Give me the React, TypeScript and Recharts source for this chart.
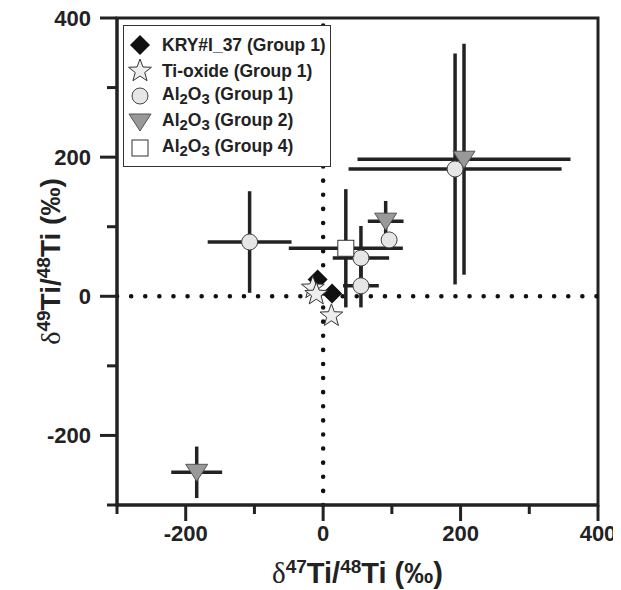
import React from 'react';
import {
  ScatterChart,
  Scatter,
  XAxis,
  YAxis,
  ErrorBar,
  ReferenceLine,
  ReferenceArea,
  Legend,
} from 'recharts';

interface Point {
  x: number;
  y: number;
  ex?: number;
  ey?: number;
}

const axisTicks = [-300, -200, -100, 0, 100, 200, 300, 400];

const kryGroup1: Point[] = [
  { x: -8, y: 24 },
  { x: 13, y: 4 },
];

const tiOxideGroup1: Point[] = [
  { x: -15, y: 12 },
  { x: -10, y: 3 },
  { x: 12, y: -28 },
];

const al2o3Group1: Point[] = [
  { x: -107, y: 78, ex: 61, ey: 73 },
  { x: 55, y: 55, ex: 41, ey: 46 },
  { x: 55, y: 15, ex: 26, ey: 31 },
  { x: 96, y: 81, ex: 8, ey: 8 },
  { x: 192, y: 183, ex: 155, ey: 166 },
];

const al2o3Group2: Point[] = [
  { x: 205, y: 197, ex: 155, ey: 166 },
  { x: 91, y: 108, ex: 26, ey: 29 },
  { x: -184, y: -253, ex: 37, ey: 37 },
];

const al2o3Group4: Point[] = [{ x: 33, y: 69, ex: 83, ey: 85 }];

const withErrors = [...al2o3Group1, ...al2o3Group2, ...al2o3Group4];

const INK = '#222';
const FONT = '"Liberation Sans", Arial, sans-serif';

const Diamond = ({ cx, cy }: any) => (
  <path d={`M${cx},${cy - 10} L${cx + 10},${cy} L${cx},${cy + 10} L${cx - 10},${cy} Z`} fill="#111" />
);

const starPath = (cx: number, cy: number, ro: number, ri: number) => {
  let d = '';
  for (let i = 0; i < 10; i++) {
    const r = i % 2 === 0 ? ro : ri;
    const a = -Math.PI / 2 + (i * Math.PI) / 5;
    d += `${i === 0 ? 'M' : 'L'}${cx + r * Math.cos(a)},${cy + r * Math.sin(a)} `;
  }
  return d + 'Z';
};

const Star = ({ cx, cy }: any) => (
  <path d={starPath(cx, cy, 12, 5)} fill="#eee" stroke="#333" strokeWidth={1} />
);

const Circle = ({ cx, cy }: any) => (
  <circle cx={cx} cy={cy} r={8} fill="#e6e6e6" stroke="#444" strokeWidth={1} />
);

const Triangle = ({ cx, cy }: any) => (
  <path d={`M${cx - 11},${cy - 8} L${cx + 11},${cy - 8} L${cx},${cy + 9} Z`} fill="#999" stroke="#555" strokeWidth={1} />
);

const Square = ({ cx, cy }: any) => (
  <rect x={cx - 8} y={cy - 8} width={16} height={16} fill="#fff" stroke="#333" strokeWidth={1} />
);

const Nothing = () => <g />;

const XTick = ({ x, y, payload }: any) => {
  const major = payload.value % 200 === 0;
  return (
    <g>
      <line x1={x} x2={x} y1={y} y2={y + (major ? 16 : 9)} stroke={INK} strokeWidth={3} />
      {major && (
        <text x={x} y={y + 36} textAnchor="middle" fontFamily={FONT} fontWeight="bold" fontSize={22} fill={INK}>
          {payload.value}
        </text>
      )}
    </g>
  );
};

const YTick = ({ x, y, payload }: any) => {
  const major = payload.value % 200 === 0;
  return (
    <g>
      <line x1={x - (major ? 17 : 10)} x2={x} y1={y} y2={y} stroke={INK} strokeWidth={3} />
      {major && (
        <text x={x - 26} y={y} dy="0.36em" textAnchor="end" fontFamily={FONT} fontWeight="bold" fontSize={22} fill={INK}>
          {payload.value}
        </text>
      )}
    </g>
  );
};

const deltaLabel = (mass: string) => [
  <tspan key="d" fontFamily='"Liberation Serif", serif' fontWeight="normal">δ</tspan>,
  <tspan key="m" fontSize={19} dy={-10}>{mass}</tspan>,
  <tspan key="t" dy={10}>Ti/</tspan>,
  <tspan key="r" fontSize={19} dy={-10}>48</tspan>,
  <tspan key="e" dy={10}>Ti (‰)</tspan>,
];

const XLabel = ({ viewBox }: any) => (
  <text x={viewBox.x + viewBox.width / 2} y={viewBox.y + 78} textAnchor="middle" fontFamily={FONT} fontWeight="bold" fontSize={29} fill={INK}>
    {deltaLabel('47')}
  </text>
);

const YLabel = ({ viewBox }: any) => {
  const cx = viewBox.x + 42;
  const cy = viewBox.y + viewBox.height / 2;
  return (
    <text x={cx} y={cy} dy="0.36em" textAnchor="middle" transform={`rotate(-90, ${cx}, ${cy})`} fontFamily={FONT} fontWeight="bold" fontSize={28} fill={INK}>
      {deltaLabel('49')}
    </text>
  );
};

const Al2O3 = ({ group }: { group: string }) => (
  <span>
    Al<sub style={{ fontSize: '0.85em', verticalAlign: '-0.25em' }}>2</sub>O
    <sub style={{ fontSize: '0.85em', verticalAlign: '-0.25em' }}>3</sub> (Group {group})
  </span>
);

const legendRows: { icon: any; label: any }[] = [
  { icon: <Diamond cx={12} cy={12} />, label: 'KRY#I_37 (Group 1)' },
  { icon: <Star cx={12} cy={12} />, label: 'Ti-oxide (Group 1)' },
  { icon: <Circle cx={12} cy={12} />, label: <Al2O3 group="1" /> },
  { icon: <Triangle cx={12} cy={12} />, label: <Al2O3 group="2" /> },
  { icon: <Square cx={12} cy={12} />, label: <Al2O3 group="4" /> },
];

const LegendBox = () => (
  <div
    style={{
      background: '#fff',
      border: '1.5px solid #333',
      padding: '6px 0 5px 4px',
      fontFamily: FONT,
      fontWeight: 'bold',
      fontSize: 17.5,
      color: INK,
      boxSizing: 'border-box',
      width: 208,
    }}
  >
    {legendRows.map((row, i) => (
      <div key={i} style={{ display: 'flex', alignItems: 'center', height: 25.8 }}>
        <svg width={24} height={24} style={{ marginRight: 10 }}>
          {row.icon}
        </svg>
        <span style={{ whiteSpace: 'nowrap', lineHeight: '20px' }}>{row.label}</span>
      </div>
    ))}
  </div>
);

export default function App() {
  return (
    <ScatterChart width={613} height={582} margin={{ top: 10, right: 23, bottom: 0, left: 0 }}>
      <XAxis
        type="number"
        dataKey="x"
        domain={[-300, 400]}
        ticks={axisTicks}
        interval={0}
        allowDataOverflow
        height={85}
        tickSize={0}
        tickMargin={0}
        tickLine={false}
        axisLine={{ stroke: INK, strokeWidth: 3 }}
        tick={<XTick />}
        label={<XLabel />}
      />
      <YAxis
        type="number"
        dataKey="y"
        domain={[-300, 400]}
        ticks={axisTicks}
        interval={0}
        allowDataOverflow
        width={109}
        tickSize={0}
        tickMargin={0}
        tickLine={false}
        axisLine={{ stroke: INK, strokeWidth: 3 }}
        tick={<YTick />}
        label={<YLabel />}
      />
      <ReferenceArea x1={-300} x2={400} y1={-300} y2={400} fill="none" stroke={INK} strokeWidth={3} />
      <ReferenceLine x={0} stroke="#111" strokeWidth={4.5} strokeDasharray="0.1 14" strokeLinecap="round" />
      <ReferenceLine y={0} stroke="#111" strokeWidth={4.5} strokeDasharray="0.1 14" strokeLinecap="round" />
      <Scatter data={withErrors} shape={<Nothing />} isAnimationActive={false}>
        <ErrorBar dataKey="ex" direction="x" width={0} stroke={INK} strokeWidth={3.5} />
        <ErrorBar dataKey="ey" direction="y" width={0} stroke={INK} strokeWidth={3.5} />
      </Scatter>
      <Scatter name="Al2O3 (Group 1)" data={al2o3Group1} shape={<Circle />} isAnimationActive={false} />
      <Scatter name="Al2O3 (Group 4)" data={al2o3Group4} shape={<Square />} isAnimationActive={false} />
      <Scatter name="Al2O3 (Group 2)" data={al2o3Group2} shape={<Triangle />} isAnimationActive={false} />
      <Scatter name="KRY#I_37 (Group 1)" data={kryGroup1} shape={<Diamond />} isAnimationActive={false} />
      <Scatter name="Ti-oxide (Group 1)" data={tiOxideGroup1} shape={<Star />} isAnimationActive={false} />
      <Legend
        layout="vertical"
        align="center"
        verticalAlign="middle"
        content={<LegendBox />}
        wrapperStyle={{ left: 115, top: 17, width: 208, height: 'auto' }}
      />
    </ScatterChart>
  );
}
